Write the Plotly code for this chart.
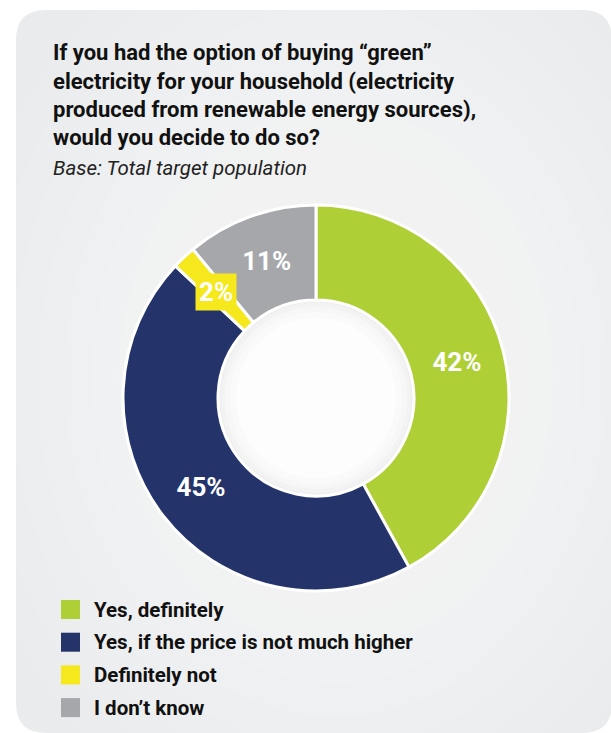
import math
import plotly.graph_objects as go

# Survey answers
labels = ["Yes, definitely", "Yes, if the price is not much higher", "Definitely not", "I don\u2019t know"]
values = [42, 45, 2, 11]
colors = ["#afcf36", "#24346b", "#f5e81c", "#a6a7ab"]

title_lines = [
    "If you had the option of buying \u201cgreen\u201d",
    "electricity for your household (electricity",
    "produced from renewable energy sources),",
    "would you decide to do so?",
]
subtitle = "Base: Total target population"

W, H = 611, 733
FONT = "Roboto"


def px(x):
    return x / W


def py(y):
    return 1 - y / H


# donut geometry (pixels)
cx, cy, R, r_in = 316, 398, 193, 98

fig = go.Figure()

# slices: the thin one gets a boxed label, the rest inside text
text_pos = ["inside" if v >= 5 else "none" for v in values]
fig.add_trace(go.Pie(
    labels=labels,
    values=values,
    marker=dict(colors=colors, line=dict(color="white", width=3)),
    hole=r_in / R,
    sort=False,
    direction="clockwise",
    rotation=0,
    texttemplate="%{value}%",
    textposition=text_pos,
    insidetextorientation="horizontal",
    textfont=dict(family=FONT, size=26, color="white", weight=700),
    domain=dict(x=[px(cx - R), px(cx + R)], y=[py(cy + R), py(cy - R)]),
    showlegend=False,
    hoverinfo="label+percent",
))

annotations = []
shapes = []

# rounded panel
x0, y0, x1, y1, rr = px(16), py(10), px(612), py(733), 30
rx, ry = rr / W, rr / H
panel = (f"M {x0+rx},{y0} L {x1-rx},{y0} Q {x1},{y0} {x1},{y0-ry} "
         f"L {x1},{y1+ry} Q {x1},{y1} {x1-rx},{y1} "
         f"L {x0+rx},{y1} Q {x0},{y1} {x0},{y1+ry} "
         f"L {x0},{y0-ry} Q {x0},{y0} {x0+rx},{y0} Z")
shapes.append(dict(type="path", xref="paper", yref="paper", path=panel,
                   fillcolor="#eaebec", line=dict(width=0), layer="below"))
# soft radial lightening towards the middle of the panel
steps = 14
for k in range(steps):
    s = 380 * (1 - k / steps)
    shapes.append(dict(type="circle", xref="paper", yref="paper",
                       x0=px(cx + 20 - s * 1.0), x1=px(cx + 20 + s * 1.0),
                       y0=py(cy - 20 + s * 1.25), y1=py(cy - 20 - s * 1.25),
                       fillcolor="#f8f8f8", opacity=0.07, line=dict(width=0), layer="below"))

# white hole with a faint shaded rim
rim = [("#efeff0", 0), ("#f3f3f4", 3), ("#f7f7f7", 7), ("#fafafa", 12), ("#fdfdfd", 18)]
for col, inset in rim:
    rr_h = r_in - inset
    shapes.append(dict(type="circle", xref="paper", yref="paper",
                       x0=px(cx - rr_h), x1=px(cx + rr_h), y0=py(cy + rr_h), y1=py(cy - rr_h),
                       fillcolor=col, line=dict(width=0), layer="below"))

# boxed label for the thin slice, placed at its mid-angle
total = sum(values)
cum = 0
for v, c in zip(values, colors):
    mid = (cum + v / 2) / total * 2 * math.pi
    cum += v
    if v < 5:
        rm = (R + r_in) / 2
        lx = cx + rm * math.sin(mid)
        ly = cy - rm * math.cos(mid)
        annotations.append(dict(x=px(lx), y=py(ly), xref="paper", yref="paper",
                                text=f"{v}%", showarrow=False, bgcolor=c, borderpad=3,
                                font=dict(family=FONT, size=26, color="white", weight=700)))

# title and subtitle
for i, line in enumerate(title_lines):
    annotations.append(dict(x=px(51), y=py(53 + i * 28.3), xref="paper", yref="paper",
                            xanchor="left", yanchor="middle", text=line, showarrow=False,
                            font=dict(family=FONT, size=22, color="#111111", weight=700)))
annotations.append(dict(x=px(51), y=py(167.5), xref="paper", yref="paper",
                        xanchor="left", yanchor="middle", text=subtitle, showarrow=False,
                        font=dict(family=FONT, size=20.5, color="#222222", style="italic")))

# legend
for i, (lab, c) in enumerate(zip(labels, colors)):
    yc = 609.5 + i * 32.7
    shapes.append(dict(type="rect", xref="paper", yref="paper",
                       x0=px(61), x1=px(80), y0=py(yc + 9.5), y1=py(yc - 9.5),
                       fillcolor=c, line=dict(width=0)))
    annotations.append(dict(x=px(92), y=py(yc), xref="paper", yref="paper",
                            xanchor="left", yanchor="middle", text=lab, showarrow=False,
                            font=dict(family=FONT, size=20.5, color="#111111", weight=700)))

fig.update_layout(
    width=W, height=H,
    margin=dict(l=0, r=0, t=0, b=0),
    paper_bgcolor="white",
    plot_bgcolor="white",
    shapes=shapes,
    annotations=annotations,
)

fig.write_html("out.html")
